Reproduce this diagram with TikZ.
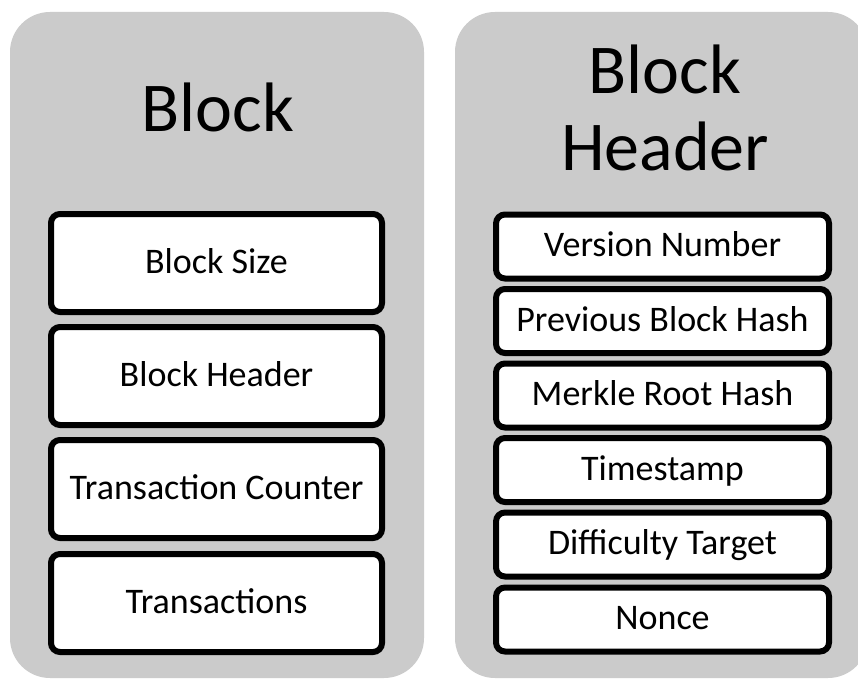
\documentclass[tikz,border=0pt]{standalone}
\usepackage{fontspec}
\setmainfont{Carlito}
\definecolor{panelgrey}{RGB}{203,203,203}
\tikzset{
  panel/.style={fill=panelgrey, draw=none, rounded corners=40pt},
  field/.style={draw=black, line width=6pt, fill=white, rounded corners=9pt,
    inner sep=0pt, text height=26pt, text depth=6pt,
    font=\fontsize{36}{43}\selectfont},
  leftfield/.style={field, minimum width=331pt, minimum height=98pt},
  rightfield/.style={field, minimum width=333pt, minimum height=64pt},
  title/.style={font=\fontsize{70}{77}\selectfont, inner sep=0pt, align=center}
}
\begin{document}
\begin{tikzpicture}[x=1pt,y=-1pt]
\useasboundingbox (0,0) rectangle (858,679);
\fill[white] (0,0) rectangle (858,679);
\path[panel] (10,12) rectangle (424,678);
\path[panel] (455,12) rectangle (868,678);

\node[title, anchor=base] (ltitle) at (218,132) {Block};
\node[title] (rtitle) at (665,108) {Block\\Header};

\node[leftfield] (bsize)  at (216.5,263) {Block Size};
\node[leftfield] (bhead)  at (216.5,376) {Block Header};
\node[leftfield] (tcount) at (216.5,489) {Transaction Counter};
\node[leftfield] (trans)  at (216.5,603) {Transactions};

\node[rightfield] (ver)   at (662.5,246.5) {Version Number};
\node[rightfield] (prev)  at (662.5,321.0) {Previous Block Hash};
\node[rightfield] (merk)  at (662.5,395.5) {Merkle Root Hash};
\node[rightfield] (time)  at (662.5,470.0) {Timestamp};
\node[rightfield] (diff)  at (662.5,544.5) {Difficulty Target};
\node[rightfield] (nonce) at (662.5,619.5) {Nonce};
\end{tikzpicture}
\end{document}
